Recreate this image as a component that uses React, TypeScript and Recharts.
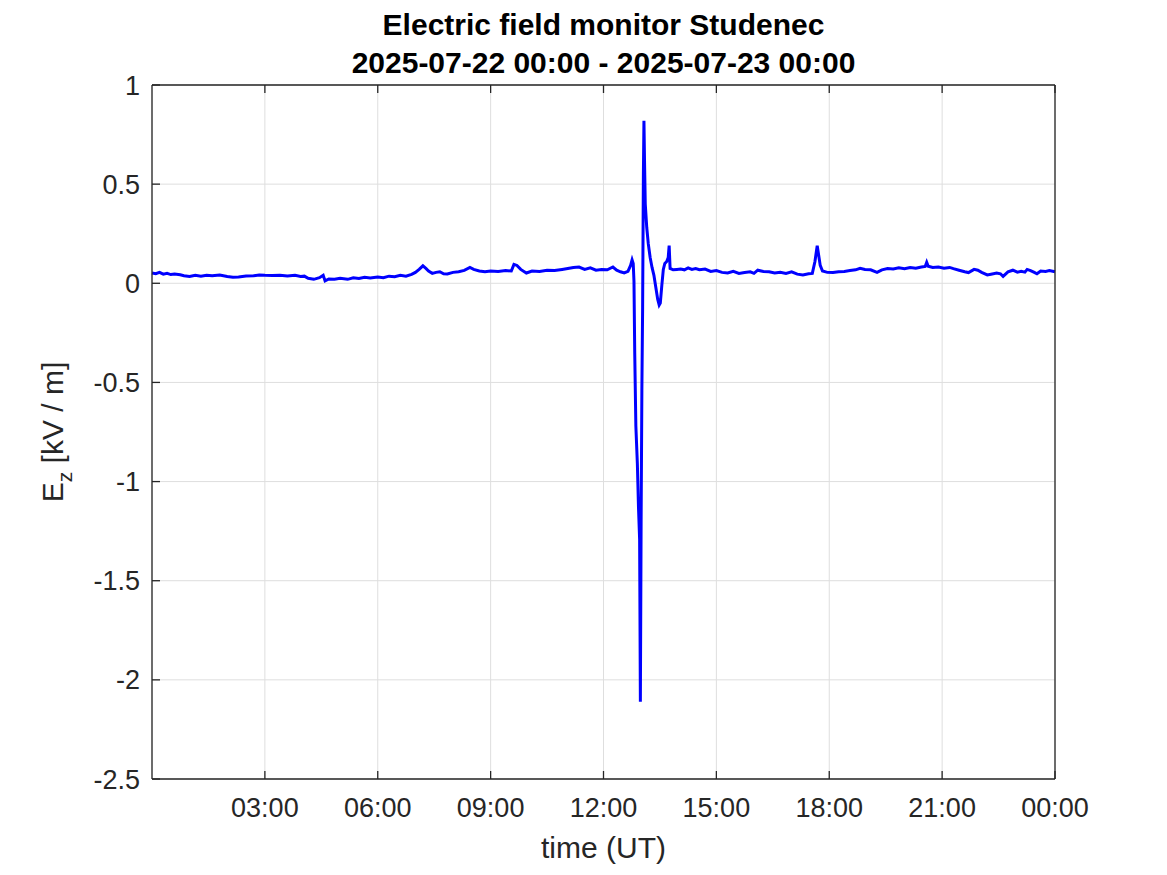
import React from 'react';
import { LineChart, Line, XAxis, YAxis, CartesianGrid } from 'recharts';

// ---- data (hours since 2025-07-22 00:00 UT, Ez in kV/m) ----
const hours: number[] = [
  0.00, 0.10, 0.20, 0.30, 0.40, 0.50, 0.60, 0.75, 0.85, 1.00, 1.15, 1.30, 1.45, 1.60, 1.80, 2.00, 2.15, 2.30, 2.50, 2.70,
  2.85, 3.00, 3.20, 3.40, 3.60, 3.80, 3.95, 4.05, 4.15, 4.30, 4.45, 4.55, 4.60, 4.70, 4.85, 5.00, 5.20, 5.35, 5.50, 5.65,
  5.80, 6.00, 6.15, 6.30, 6.45, 6.60, 6.75, 6.90, 7.00, 7.10, 7.20, 7.28, 7.35, 7.45, 7.55, 7.65, 7.75, 7.85, 8.00, 8.15,
  8.30, 8.45, 8.55, 8.70, 8.85, 9.00, 9.20, 9.40, 9.55, 9.62, 9.70, 9.80, 9.95, 10.10, 10.30, 10.50, 10.70, 10.90, 11.05, 11.20,
  11.35, 11.50, 11.65, 11.80, 11.95, 12.10, 12.25, 12.35, 12.45, 12.55, 12.65, 12.72, 12.76, 12.79, 12.81, 12.83, 12.86, 12.90, 12.93, 12.96,
  12.98, 13.00, 13.02, 13.04, 13.06, 13.075, 13.09, 13.11, 13.15, 13.19, 13.24, 13.29, 13.34, 13.39, 13.44, 13.48, 13.51, 13.55, 13.59, 13.63,
  13.68, 13.72, 13.745, 13.77, 13.85, 13.95, 14.05, 14.15, 14.25, 14.35, 14.45, 14.55, 14.70, 14.85, 15.00, 15.15, 15.30, 15.45, 15.60, 15.75,
  15.90, 16.00, 16.10, 16.25, 16.40, 16.55, 16.70, 16.85, 17.00, 17.15, 17.30, 17.45, 17.55, 17.62, 17.68, 17.72, 17.76, 17.82, 17.95, 18.10,
  18.25, 18.40, 18.55, 18.70, 18.82, 18.95, 19.10, 19.27, 19.40, 19.55, 19.70, 19.85, 20.00, 20.15, 20.30, 20.45, 20.55, 20.59, 20.63, 20.75,
  20.90, 21.05, 21.20, 21.30, 21.45, 21.60, 21.70, 21.85, 21.95, 22.05, 22.20, 22.30, 22.45, 22.55, 22.62, 22.75, 22.88, 23.00, 23.10, 23.20,
  23.26, 23.35, 23.45, 23.52, 23.62, 23.75, 23.85, 24.00,
];

const ezValues: number[] = [
  0.052, 0.048, 0.055, 0.046, 0.050, 0.044, 0.047, 0.043, 0.038, 0.034, 0.040, 0.036, 0.041, 0.038, 0.042, 0.034, 0.030, 0.032, 0.037, 0.038,
  0.042, 0.040, 0.039, 0.041, 0.037, 0.040, 0.034, 0.036, 0.025, 0.020, 0.028, 0.040, 0.012, 0.022, 0.020, 0.025, 0.020, 0.028, 0.024, 0.030,
  0.027, 0.032, 0.028, 0.036, 0.033, 0.040, 0.036, 0.045, 0.055, 0.070, 0.088, 0.075, 0.062, 0.050, 0.055, 0.058, 0.048, 0.047, 0.055, 0.058,
  0.065, 0.080, 0.070, 0.062, 0.058, 0.062, 0.060, 0.064, 0.062, 0.095, 0.090, 0.070, 0.052, 0.062, 0.060, 0.066, 0.064, 0.070, 0.075, 0.080,
  0.082, 0.070, 0.078, 0.066, 0.070, 0.068, 0.082, 0.066, 0.058, 0.052, 0.060, 0.090, 0.118, 0.100, 0.010, -0.35, -0.72, -0.91, -1.13, -1.29,
  -2.11, -1.19, -0.54, -0.12, 0.55, 0.82, 0.62, 0.40, 0.28, 0.20, 0.13, 0.08, 0.04, -0.02, -0.08, -0.11, -0.10, -0.01, 0.07, 0.10,
  0.11, 0.13, 0.19, 0.075, 0.068, 0.070, 0.072, 0.068, 0.078, 0.070, 0.074, 0.068, 0.072, 0.060, 0.064, 0.055, 0.052, 0.060, 0.050, 0.054,
  0.058, 0.050, 0.066, 0.060, 0.058, 0.052, 0.056, 0.050, 0.058, 0.046, 0.042, 0.048, 0.050, 0.110, 0.190, 0.140, 0.090, 0.062, 0.055, 0.054,
  0.058, 0.060, 0.064, 0.068, 0.076, 0.070, 0.068, 0.055, 0.068, 0.074, 0.072, 0.078, 0.074, 0.080, 0.076, 0.082, 0.085, 0.106, 0.086, 0.080,
  0.082, 0.076, 0.080, 0.074, 0.066, 0.058, 0.054, 0.070, 0.066, 0.055, 0.042, 0.046, 0.052, 0.048, 0.035, 0.058, 0.066, 0.056, 0.060, 0.056,
  0.070, 0.064, 0.055, 0.048, 0.062, 0.060, 0.064, 0.058,
];

const xTicks: number[] = [3, 6, 9, 12, 15, 18, 21, 24];
const yTicks: number[] = [-2.5, -2, -1.5, -1, -0.5, 0, 0.5, 1];

const titleLine1 = 'Electric field monitor Studenec';
const titleLine2 = '2025-07-22 00:00 - 2025-07-23 00:00';
const xLabelText = 'time (UT)';

const rows = hours.map((h, i) => ({ t: h, ez: ezValues[i] }));

// ---- layout ----
const W = 1150;
const H = 859;
const PLOT_LEFT = 144;
const PLOT_TOP = 77;
const PLOT_RIGHT = 1047;
const PLOT_BOTTOM = 771;
const Y_AXIS_W = 80;
const X_AXIS_H = 60;
const EDGE_AXIS = 1;

const FONT = '"Liberation Sans", Arial, Helvetica, sans-serif';
const AX = '#262626';

const fmtHour = (h: number) => `${String(h % 24).padStart(2, '0')}:00`;
const fmtY = (v: number) => String(v);

const YLabel = (props: any) => {
  const vb = props.viewBox || {};
  const cx = 55;
  const cy = (vb.y ?? PLOT_TOP) + (vb.height ?? PLOT_BOTTOM - PLOT_TOP) / 2;
  return (
    <text
      x={cx}
      y={cy}
      transform={`rotate(-90, ${cx}, ${cy})`}
      textAnchor="middle"
      fontFamily={FONT}
      fontSize={30}
      fill={AX}
    >
      E
      <tspan fontSize={21} dy={9}>z</tspan>
      <tspan dy={-9}> [kV / m]</tspan>
    </text>
  );
};

const XLabel = () => {
  const cx = (PLOT_LEFT + PLOT_RIGHT) / 2;
  return (
    <text x={cx} y={850} textAnchor="middle" fontFamily={FONT} fontSize={30} fill={AX}>
      {xLabelText}
    </text>
  );
};

const NoTick = () => <text />;

export default function App() {
  const cx = (PLOT_LEFT + PLOT_RIGHT) / 2;
  return (
    <div style={{ width: W, height: H, position: 'relative' }}>
      <LineChart
        width={W}
        height={H}
        data={rows}
        margin={{
          top: PLOT_TOP - EDGE_AXIS,
          left: PLOT_LEFT - Y_AXIS_W,
          right: W - PLOT_RIGHT - EDGE_AXIS,
          bottom: H - PLOT_BOTTOM - X_AXIS_H,
        }}
      >
        <CartesianGrid stroke="#dedede" strokeWidth={1} xAxisId="b" yAxisId="l" />
        <XAxis
          xAxisId="b"
          dataKey="t"
          type="number"
          domain={[0, 24]}
          ticks={xTicks}
          interval={0}
          tickFormatter={fmtHour}
          height={X_AXIS_H}
          tickSize={-8}
          tickMargin={27}
          axisLine={{ stroke: AX, strokeWidth: 1.3 }}
          tickLine={{ stroke: AX, strokeWidth: 1.3 }}
          tick={{ fill: AX, fontSize: 27, fontFamily: FONT }}
          label={{ content: XLabel }}
        />
        <XAxis
          xAxisId="top"
          dataKey="t"
          type="number"
          orientation="top"
          domain={[0, 24]}
          ticks={xTicks}
          interval={0}
          height={EDGE_AXIS}
          tickSize={-8}
          axisLine={{ stroke: AX, strokeWidth: 1.3 }}
          tickLine={{ stroke: AX, strokeWidth: 1.3 }}
          tick={NoTick}
        />
        <YAxis
          yAxisId="l"
          type="number"
          domain={[-2.5, 1]}
          ticks={yTicks}
          interval={0}
          tickFormatter={fmtY}
          width={Y_AXIS_W}
          tickSize={-8}
          tickMargin={20}
          axisLine={{ stroke: AX, strokeWidth: 1.3 }}
          tickLine={{ stroke: AX, strokeWidth: 1.3 }}
          tick={{ fill: AX, fontSize: 27, fontFamily: FONT }}
          label={{ content: YLabel }}
        />
        <YAxis
          yAxisId="r"
          orientation="right"
          type="number"
          domain={[-2.5, 1]}
          ticks={yTicks}
          interval={0}
          width={EDGE_AXIS}
          tickSize={-8}
          axisLine={{ stroke: AX, strokeWidth: 1.3 }}
          tickLine={{ stroke: AX, strokeWidth: 1.3 }}
          tick={NoTick}
        />
        <Line
          xAxisId="b"
          yAxisId="l"
          type="linear"
          dataKey="ez"
          stroke="#0000ff"
          strokeWidth={3}
          dot={false}
          isAnimationActive={false}
        />
      </LineChart>
      <svg
        width={W}
        height={PLOT_TOP}
        style={{ position: 'absolute', left: 0, top: 0, pointerEvents: 'none' }}
      >
        <text x={cx} y={27} textAnchor="middle" fontFamily={FONT} fontSize={30} fontWeight="bold" fill="#000">
          {titleLine1}
        </text>
        <text x={cx} y={65} textAnchor="middle" fontFamily={FONT} fontSize={30} fontWeight="bold" fill="#000">
          {titleLine2}
        </text>
      </svg>
    </div>
  );
}
